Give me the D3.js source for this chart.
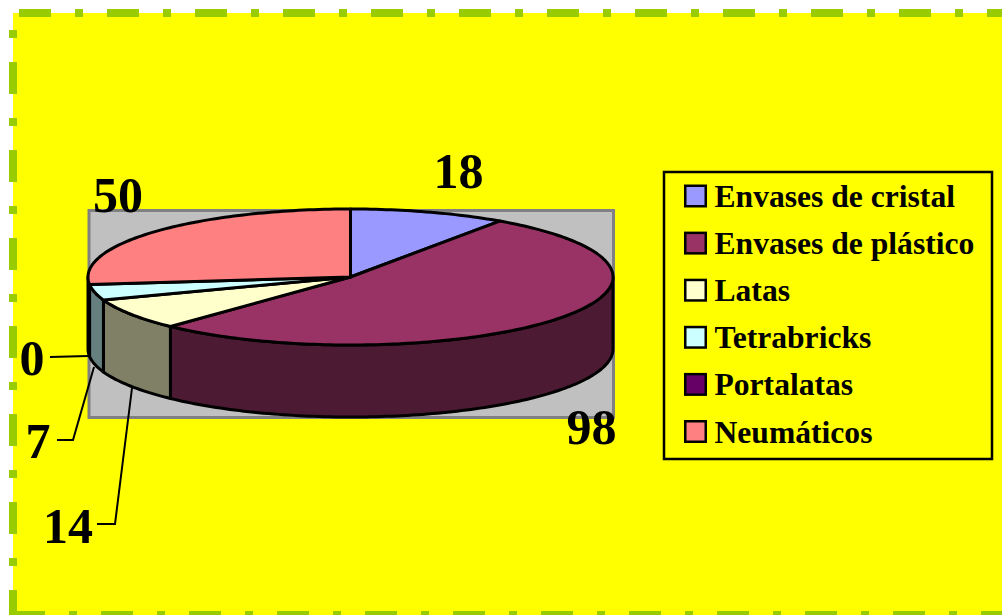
<!DOCTYPE html>
<html lang="en">
<head>
    <meta charset="UTF-8">
    <title>Residuos reciclados</title>
    <script src="https://d3js.org/d3.v7.min.js"></script>
    <style>
        html, body { margin: 0; padding: 0; background: #fff; overflow: hidden; }
        text { font-family: "Liberation Serif", serif; font-weight: bold; fill: #000; }
        .value { font-size: 50px; }
        .entry { font-size: 31.6px; }
    </style>
</head>
<body>
    <div id="chart"></div>
    <script>
        const categories = ["Envases de cristal", "Envases de plástico", "Latas", "Tetrabricks", "Portalatas", "Neumáticos"];
        const values = [18, 98, 14, 7, 0, 50];
        const topColors = ["#9999ff", "#993366", "#ffffcc", "#ccffff", "#660066", "#ff8080"];
        const sideColors = ["#4d4d80", "#4d1a33", "#808066", "#668080", "#330033", "#804040"];

        const width = 1002, height = 615;
        const cx = 350.5, cy = 277, rx = 262.5, ry = 68, depth = 72;

        const svg = d3.select("#chart").append("svg")
            .attr("width", width)
            .attr("height", height)
            .style("display", "block");

        // Page background and dash-dot border
        svg.append("rect")
            .attr("x", 13).attr("y", 13)
            .attr("width", width - 13).attr("height", height - 13)
            .attr("fill", "#ffff00");

        const border = [
            { x1: 13, y1: 13, x2: width, y2: 13, offset: 82 },
            { x1: 13, y1: 13, x2: 13, y2: height, offset: 39 },
            { x1: 13, y1: 615, x2: width, y2: 615, offset: 0 }
        ];
        svg.selectAll(".border").data(border).enter().append("line")
            .attr("class", "border")
            .attr("x1", d => d.x1).attr("y1", d => d.y1)
            .attr("x2", d => d.x2).attr("y2", d => d.y2)
            .attr("stroke", "#99cc00")
            .attr("stroke-width", 8)
            .attr("stroke-dasharray", "32 24 8 24")
            .attr("stroke-dashoffset", d => d.offset);

        // Plot area
        svg.append("rect")
            .attr("x", 89).attr("y", 210.5)
            .attr("width", 524.5).attr("height", 207)
            .attr("fill", "#c0c0c0")
            .attr("stroke", "#808080")
            .attr("stroke-width", 3);

        const pie = d3.pie().sort(null).startAngle(0).endAngle(2 * Math.PI);
        const arcs = pie(values).map((d, i) => ({ ...d, i }));

        const px = a => cx + rx * Math.sin(a);
        const py = a => cy - ry * Math.cos(a);

        function ellipseArc(path, a0, a1, dy) {
            // sample the ellipse, works in both directions
            const steps = Math.max(2, Math.ceil(Math.abs(a1 - a0) / 0.02));
            for (let s = 1; s <= steps; s++) {
                const a = a0 + (a1 - a0) * s / steps;
                path.lineTo(px(a), py(a) + dy);
            }
        }

        // Side wall, only the front half of the rim shows
        const halfPi = Math.PI / 2, backEdge = 3 * Math.PI / 2;
        arcs.filter(d => d.value > 0 && d.endAngle > halfPi && d.startAngle < backEdge).forEach(d => {
            const a0 = Math.max(d.startAngle, halfPi);
            const a1 = Math.min(d.endAngle, backEdge);
            const p = d3.path();
            p.moveTo(px(a0), py(a0));
            ellipseArc(p, a0, a1, 0);
            p.lineTo(px(a1), py(a1) + depth);
            ellipseArc(p, a1, a0, depth);
            p.closePath();
            svg.append("path")
                .attr("d", p.toString())
                .attr("fill", sideColors[d.i])
                .attr("stroke", "#000")
                .attr("stroke-width", 3)
                .attr("stroke-linejoin", "round");
        });

        // Top face
        arcs.filter(d => d.value > 0).forEach(d => {
            const p = d3.path();
            p.moveTo(cx, cy);
            p.lineTo(px(d.startAngle), py(d.startAngle));
            ellipseArc(p, d.startAngle, d.endAngle, 0);
            p.closePath();
            svg.append("path")
                .attr("d", p.toString())
                .attr("fill", topColors[d.i])
                .attr("stroke", "#000")
                .attr("stroke-width", 3)
                .attr("stroke-linejoin", "round");
        });

        // Data labels
        const labelPos = [
            { x: 458.5, y: 188 }, { x: 591.5, y: 444 }, { x: 68, y: 543 },
            { x: 38, y: 458 }, { x: 32, y: 375 }, { x: 118, y: 212 }
        ];
        svg.selectAll(".value").data(values).enter().append("text")
            .attr("class", "value")
            .attr("text-anchor", "middle")
            .attr("x", (d, i) => labelPos[i].x)
            .attr("y", (d, i) => labelPos[i].y)
            .text(d => d);

        // Leader lines
        const leaders = [
            [[50, 357], [88, 356]],
            [[57, 440], [73, 440], [94, 367]],
            [[97, 524], [115, 524], [132, 388]]
        ];
        svg.selectAll(".leader").data(leaders).enter().append("path")
            .attr("class", "leader")
            .attr("d", d3.line())
            .attr("fill", "none")
            .attr("stroke", "#000")
            .attr("stroke-width", 2);

        // Legend
        svg.append("rect")
            .attr("x", 664).attr("y", 172)
            .attr("width", 328).attr("height", 287)
            .attr("fill", "#ffff00")
            .attr("stroke", "#000")
            .attr("stroke-width", 2.5);

        const legendY = d3.scalePoint().domain(categories).range([196, 431.5]);
        const entry = svg.selectAll(".entry").data(categories).enter().append("g")
            .attr("transform", d => `translate(0, ${legendY(d)})`);
        entry.append("rect")
            .attr("x", 685.25).attr("y", -10.25)
            .attr("width", 20.5).attr("height", 20.5)
            .attr("fill", (d, i) => topColors[i])
            .attr("stroke", "#000")
            .attr("stroke-width", 2.5);
        entry.append("text")
            .attr("class", "entry")
            .attr("x", 714.5).attr("y", 11)
            .text(d => d);
    </script>
</body>
</html>
